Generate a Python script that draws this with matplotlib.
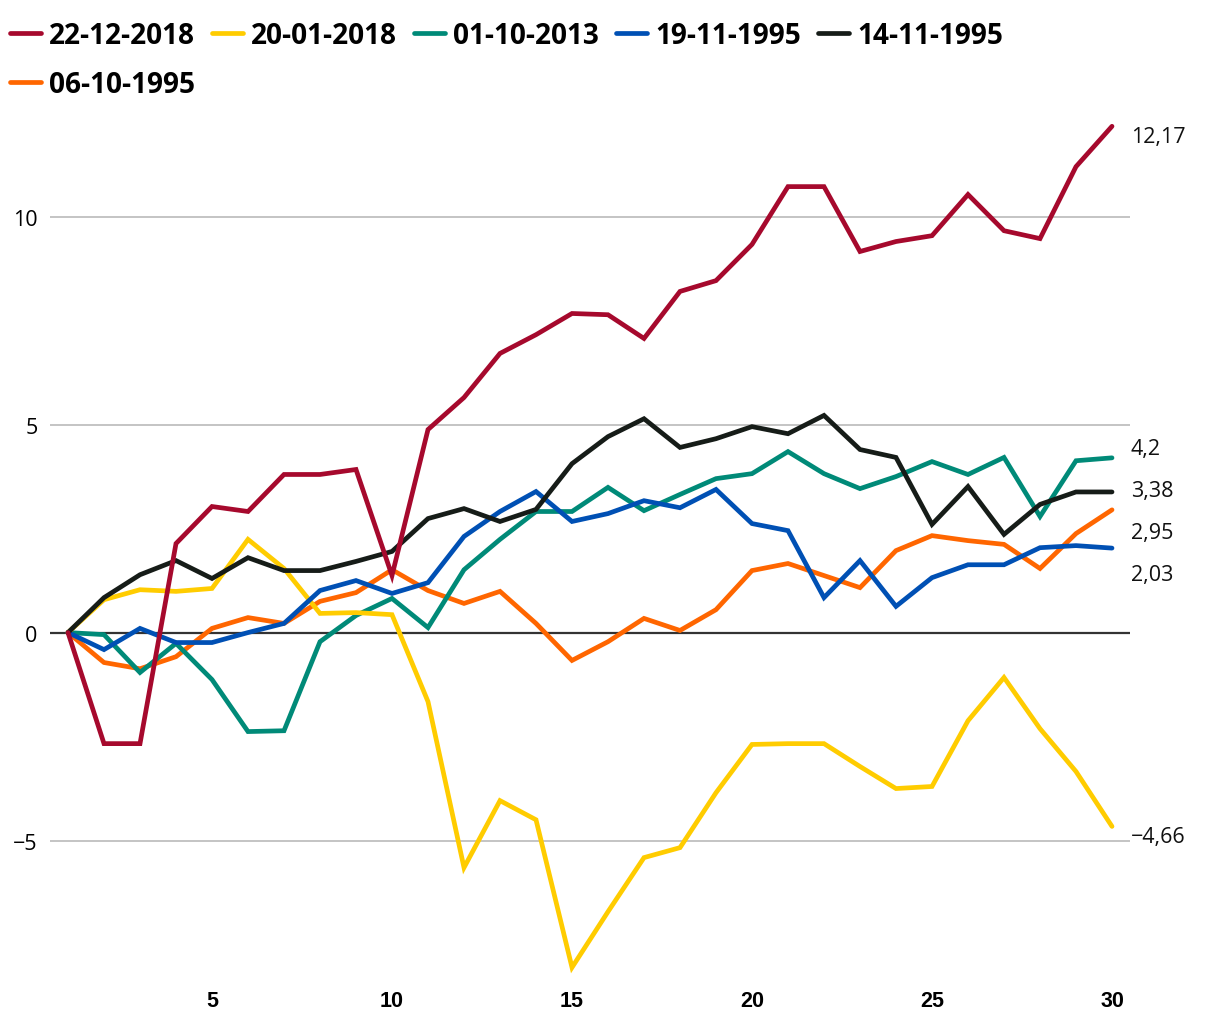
import matplotlib
matplotlib.use("Agg")
import matplotlib.pyplot as plt
import numpy as np

days = list(range(1, 31))

labels = ["22-12-2018", "20-01-2018", "01-10-2013", "19-11-1995", "14-11-1995", "06-10-1995"]
colors = ["#A6092D", "#FFCC00", "#008A78", "#0050B4", "#161C18", "#FF6600"]

s_2018_12 = [0, -2.67, -2.67, 2.14, 3.03, 2.91, 3.80, 3.80, 3.92, 1.37,
             4.88, 5.65, 6.71, 7.16, 7.67, 7.64, 7.07, 8.20, 8.46, 9.33,
             10.72, 10.72, 9.16, 9.40, 9.54, 10.53, 9.66, 9.47, 11.20, 12.17]
s_2018_01 = [0, 0.79, 1.03, 0.99, 1.06, 2.24, 1.54, 0.46, 0.48, 0.43,
             -1.66, -5.65, -4.04, -4.50, -8.05, -6.71, -5.41, -5.17, -3.85, -2.69,
             -2.67, -2.67, -3.22, -3.75, -3.70, -2.12, -1.08, -2.31, -3.34, -4.66]
s_2013 = [0, -0.05, -0.96, -0.26, -1.13, -2.38, -2.36, -0.22, 0.41, 0.82,
          0.12, 1.51, 2.24, 2.91, 2.91, 3.49, 2.93, 3.32, 3.70, 3.82,
          4.35, 3.82, 3.46, 3.75, 4.11, 3.80, 4.21, 2.79, 4.13, 4.20]
s_1995_11_19 = [0, -0.41, 0.10, -0.24, -0.24, 0.0, 0.22, 1.01, 1.25, 0.94,
                1.20, 2.31, 2.91, 3.39, 2.67, 2.86, 3.17, 3.00, 3.44, 2.62,
                2.45, 0.84, 1.73, 0.63, 1.32, 1.63, 1.63, 2.04, 2.09, 2.03]
s_1995_11_14 = [0, 0.84, 1.39, 1.73, 1.30, 1.80, 1.49, 1.49, 1.71, 1.95,
                2.74, 2.98, 2.67, 2.96, 4.06, 4.71, 5.14, 4.45, 4.66, 4.95,
                4.78, 5.22, 4.40, 4.21, 2.60, 3.51, 2.36, 3.08, 3.38, 3.38]
s_1995_10 = [0, -0.72, -0.87, -0.58, 0.10, 0.36, 0.22, 0.75, 0.96, 1.51,
             1.01, 0.70, 0.99, 0.22, -0.67, -0.22, 0.34, 0.05, 0.55, 1.49,
             1.66, 1.37, 1.08, 1.97, 2.33, 2.21, 2.12, 1.54, 2.38, 2.95]

series = [s_2018_12, s_2018_01, s_2013, s_1995_11_19, s_1995_11_14, s_1995_10]
zorders = [7, 4, 3, 5, 6, 2]

fig = plt.figure(figsize=(12.2, 10.2), dpi=100)
ax = fig.add_axes([50 / 1220, 37 / 1020, 1080 / 1220, 873.6 / 1020])

handles = []
for vals, lab, col, z in zip(series, labels, colors, zorders):
    ln, = ax.plot(days, vals, color=col, lw=3.4, zorder=z, label=lab,
                  solid_joinstyle="miter", solid_capstyle="round")
    handles.append(ln)

ax.set_xlim(0.5, 30.5)
ax.set_ylim(-8.4, 12.6)

for g in [-5, 5, 10]:
    ax.axhline(g, color="#C4C4C4", lw=1.4, zorder=0)
ax.axhline(0, color="#333333", lw=1.6, zorder=1)

for sp in ax.spines.values():
    sp.set_visible(False)

ax.set_yticks([-5, 0, 5, 10])
ax.set_yticklabels(["\u22125", "0", "5", "10"], family="Open Sans", fontsize=15.5)
ax.set_xticks([5, 10, 15, 20, 25, 30])
ax.set_xticklabels(["5", "10", "15", "20", "25", "30"], family="Liberation Sans",
                   fontweight="bold", fontsize=15.5)
ax.tick_params(axis="both", length=0)
ax.tick_params(axis="y", pad=9)
ax.tick_params(axis="x", pad=6)

# end labels, pushed apart so they don't overlap
ends = [s[-1] for s in series]
gap = 1.01
order = sorted(range(len(ends)), key=lambda i: -ends[i])
groups = [[i] for i in order]
changed = True
while changed:
    changed = False
    pos = []
    for g in groups:
        c = np.mean([ends[i] for i in g])
        top = c + gap * (len(g) - 1) / 2
        pos.append([top - gap * k for k in range(len(g))])
    for k in range(len(groups) - 1):
        if pos[k][-1] - pos[k + 1][0] < gap:
            groups[k] = groups[k] + groups[k + 1]
            del groups[k + 1]
            changed = True
            break
label_y = {}
for g in groups:
    c = np.mean([ends[i] for i in g])
    top = c + gap * (len(g) - 1) / 2
    for k, i in enumerate(g):
        label_y[i] = top - gap * k

for i, v in enumerate(ends):
    txt = ("%g" % v).replace(".", ",").replace("-", "\u2212")
    ax.text(30.52, label_y[i] - 0.24, txt, family="Open Sans", fontsize=15.5,
            va="center", ha="left", color="#111111", clip_on=False)

# legend row-major: reorder for matplotlib's column fill
leg_order = [0, 5, 1, 2, 3, 4]
fig.legend([handles[i] for i in leg_order], [labels[i] for i in leg_order],
           loc="upper left", bbox_to_anchor=(10 / 1220, 1 - 22 / 1020), ncol=5,
           frameon=False, borderpad=0, borderaxespad=0,
           handlelength=1.1, handletextpad=0.3, columnspacing=0.6, labelspacing=0.72,
           prop={"family": "Open Sans", "weight": "bold", "size": 20.2})

fig.savefig("out.png", dpi=100)
